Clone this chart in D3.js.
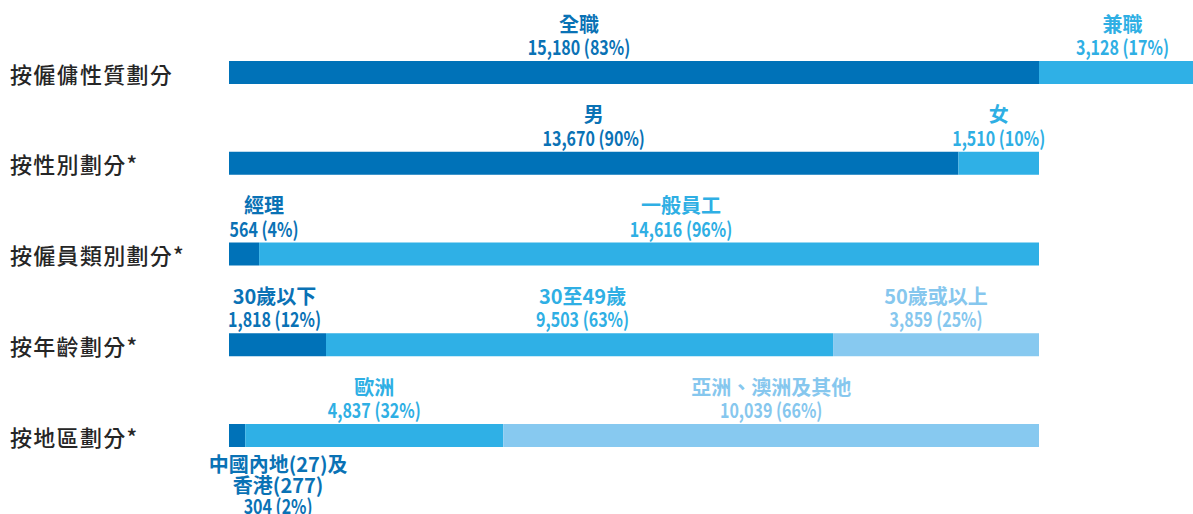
<!DOCTYPE html>
<html><head><meta charset="utf-8">
<script src="https://cdn.jsdelivr.net/npm/d3@7/dist/d3.min.js"></script>
<style>
html,body{margin:0;padding:0;background:#fff;overflow:hidden}
svg{display:block}
.cat{font-family:"Noto Sans CJK TC","Noto Sans",sans-serif;font-size:22px;font-weight:500;fill:#262626;letter-spacing:1.3px}
.seg{font-family:"Noto Sans CJK TC","Noto Sans",sans-serif;font-size:20px}
.seg.name{font-weight:600}
.seg.num{font-weight:700}
</style></head>
<body>
<script>
const groups = ["按僱傭性質劃分", "按性別劃分*", "按僱員類別劃分*", "按年齡劃分*", "按地區劃分*"];
const segmentNames = [
  ["全職", "兼職"],
  ["男", "女"],
  ["經理", "一般員工"],
  ["30歲以下", "30至49歲", "50歲或以上"],
  ["中國內地(27)及\n香港(277)", "歐洲", "亞洲、澳洲及其他"]
];
const segmentValues = [
  [15180, 3128],
  [13670, 1510],
  [564, 14616],
  [1818, 9503, 3859],
  [304, 4837, 10039]
];
const segmentPercents = [
  [83, 17],
  [90, 10],
  [4, 96],
  [12, 63, 25],
  [2, 32, 66]
];
const colorOrder = ["深藍", "藍", "淺藍"];

const W = 1193, H = 514;
const colors = d3.scaleOrdinal().domain(colorOrder).range(["#0072b8", "#2fb0e6", "#87c9f0"]);
const textColors = d3.scaleOrdinal().domain(colorOrder).range(["#0a72b5", "#2fafe4", "#86c7ee"]);

const svg = d3.select("body").append("svg").attr("width", W).attr("height", H);

const x = d3.scaleLinear().domain([0, d3.sum(segmentValues[1])]).range([229, 1039]);
const y = d3.scaleBand().domain(groups).range([61, 447]).paddingInner(1 - 23 / 90.75).paddingOuter(0);

// label layout tweaks (pixel offsets from segment centre), keyed by group/segment index
const labelDx = {"0-0": -55, "2-0": 20, "2-1": 32, "3-0": -3, "3-1": 3, "4-0": 41};
const labelBelow = {"4-0": true};

const fmt = d3.format(",");

groups.forEach((g, gi) => {
  const vals = segmentValues[gi];
  let acc = 0;
  const segs = vals.map((v, si) => {
    const s = {g, gi, si, x0: acc, x1: acc + v, v, name: segmentNames[gi][si], pct: segmentPercents[gi][si], c: colorOrder[si]};
    acc += v;
    return s;
  });
  const row = svg.append("g");
  row.selectAll("rect").data(segs).join("rect")
    .attr("x", d => x(d.x0))
    .attr("y", y(g))
    .attr("width", d => x(d.x1) - x(d.x0))
    .attr("height", y.bandwidth())
    .attr("fill", d => colors(d.c));

  svg.append("text").attr("class", "cat")
    .attr("x", 10).attr("y", y(g) + y.bandwidth() / 2)
    .attr("dominant-baseline", "central")
    .text(g);

  segs.forEach(d => {
    const key = gi + "-" + d.si;
    const cx = (x(d.x0) + x(d.x1)) / 2 + (labelDx[key] || 0);
    const nameLines = d.name.split("\n");
    const numLine = fmt(d.v) + " (" + d.pct + "%)";
    const n = nameLines.length + 1;
    let ys;
    if (labelBelow[key]) {
      const top = y(g) + y.bandwidth();
      ys = d3.range(n).map(i => top + 25 + i * 21);
    } else {
      const top = y(g);
      ys = d3.range(n).map(i => top - 6 - (n - 1 - i) * 22.5);
    }
    nameLines.forEach((l, i) => {
      svg.append("text").attr("class", "seg name")
        .attr("text-anchor", "middle")
        .attr("fill", textColors(d.c))
        .attr("x", cx).attr("y", ys[i] - (labelBelow[key] ? 0 : 1))
        .text(l);
    });
    svg.append("text").attr("class", "seg num")
      .attr("text-anchor", "middle")
      .attr("fill", textColors(d.c))
      .attr("transform", `translate(${cx},${ys[n - 1]}) scale(0.8,1)`)
      .text(numLine);
  });
});
</script>
</body></html>
